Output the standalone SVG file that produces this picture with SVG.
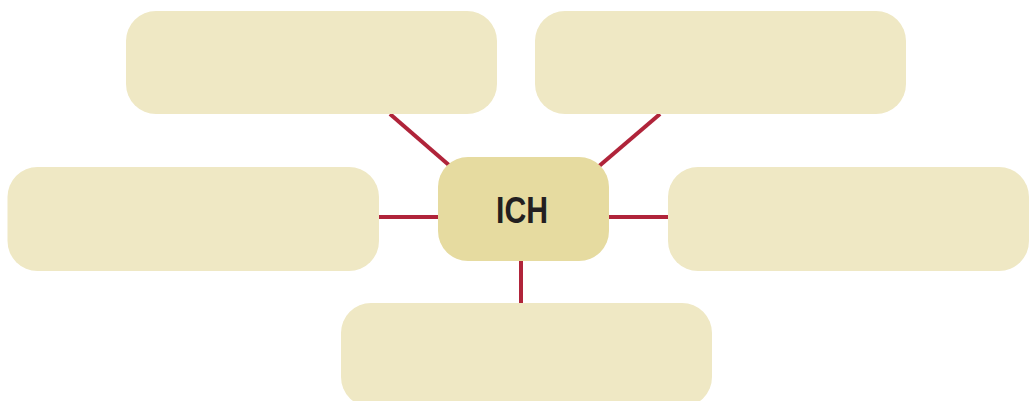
<svg xmlns="http://www.w3.org/2000/svg" width="1029" height="401" viewBox="0 0 1029 401">
<style>
.box{fill:#efe8c4}
.center{fill:#e6dba0}
.link{stroke:#b0243a;stroke-width:4;fill:none}
.label{font-family:"Liberation Sans Narrow","Liberation Sans",Arial,sans-serif;font-stretch:condensed;font-weight:bold;font-size:37px;fill:#231f20;text-anchor:middle}
</style>
<rect width="1029" height="401" fill="#ffffff"/>
<g id="connectors">
<line class="link" x1="390" y1="114" x2="450" y2="166"/>
<line class="link" x1="660" y1="114" x2="598" y2="167"/>
<line class="link" x1="379" y1="217" x2="440" y2="217"/>
<line class="link" x1="607" y1="217" x2="668" y2="217"/>
<line class="link" x1="521" y1="259" x2="521" y2="303"/>
</g>
<g id="top-left"><rect class="box" x="126" y="11" width="371" height="103" rx="30"/></g>
<g id="top-right"><rect class="box" x="535" y="11" width="371" height="103" rx="30"/></g>
<g id="left"><rect class="box" x="7.5" y="167" width="371.5" height="104" rx="30"/></g>
<g id="right"><rect class="box" x="668" y="167" width="361" height="104" rx="30"/></g>
<g id="bottom"><rect class="box" x="341" y="303" width="371" height="104" rx="30"/></g>
<g id="ich"><rect class="center" x="438" y="157" width="171" height="104" rx="30"/>
<text class="label" x="522" y="223" textLength="52" lengthAdjust="spacingAndGlyphs">ICH</text></g>
</svg>
